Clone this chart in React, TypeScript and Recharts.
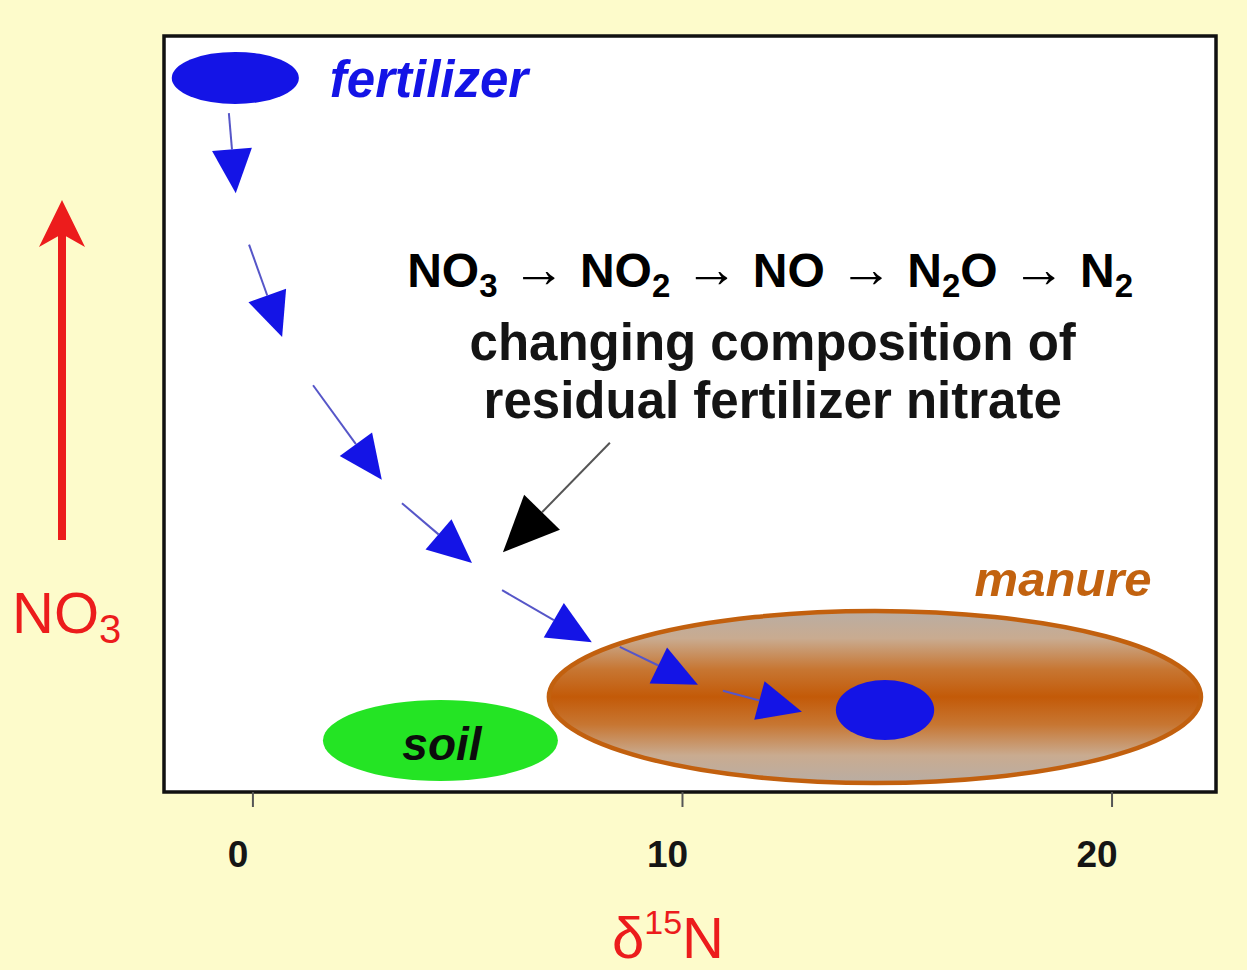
import {
  ScatterChart,
  XAxis,
  YAxis,
  ReferenceArea,
  ReferenceLine,
  ReferenceDot,
  Label,
} from "recharts";

const FONT = "'Liberation Sans', Arial, Helvetica, sans-serif";
const PAGE_BG = "#fdfbcb";
const BLUE = "#1414e6";
const RED = "#ec1c1c";

// delta 15N (x) and nitrate concentration (y, relative 0-100)
const xDomain = [-2.07, 22.42];
const yDomain = [0, 100];
const xTicks = [0, 10, 20];

// source fields as boxes in chart units
const sourceNames = ["frame", "manure", "soil", "fertilizer", "residual"];
const sourceX = [
  [-2.07, 22.42],
  [6.89, 22.07],
  [1.63, 7.1],
  [-1.89, 1.07],
  [13.57, 15.86],
];
const sourceY = [
  [0, 100],
  [1.19, 23.94],
  [1.46, 12.17],
  [91.0, 97.9],
  [6.88, 14.81],
];

// denitrification path of the residual fertilizer nitrate
const pathStart = [
  [-0.56, 89.8],
  [-0.09, 72.4],
  [1.4, 53.8],
  [3.47, 38.2],
  [5.8, 26.7],
  [8.54, 19.2],
  [10.94, 13.4],
];
const pathEnd = [
  [-0.4, 79.2],
  [0.68, 60.2],
  [3.0, 41.3],
  [5.1, 30.3],
  [7.89, 19.8],
  [10.36, 14.2],
  [12.78, 10.6],
];

// pointer from the caption to the path
const pointerStart = [8.31, 46.2];
const pointerEnd = [5.82, 31.7];

// caption anchors
const captionNames = ["fertilizer", "chain", "line1", "line2", "manure", "soil"];
const captionX = [1.79, 12.04, 12.1, 12.1, 18.86, 4.4];
const captionY = [91.9, 66.8, 57.1, 49.5, 25.9, 4.2];

const chainParts = [
  ["NO", "3"],
  ["NO", "2"],
  ["NO", ""],
  ["N", "2", "O"],
  ["N", "2"],
];

const sourceStyle: Record<string, any> = {
  frame: { fill: "#ffffff", stroke: "#111", strokeWidth: 3.5, rect: true },
  manure: { fill: "url(#manureFill)", stroke: "#c2600e", strokeWidth: 4.5 },
  soil: { fill: "#24e424" },
  fertilizer: { fill: BLUE },
  residual: { fill: BLUE },
};

function sourceShape(name: string) {
  const st = sourceStyle[name];
  return (p: any) => {
    const { x, y, width, height } = p;
    if (st.rect) {
      return (
        <rect x={x} y={y} width={width} height={height} fill={st.fill} stroke={st.stroke} strokeWidth={st.strokeWidth} />
      );
    }
    return (
      <g>
        <defs>
          <linearGradient id="manureFill" x1="0" y1="0" x2="0" y2="1">
            <stop offset="0%" stopColor="#b9ada3" />
            <stop offset="16%" stopColor="#c9ab90" />
            <stop offset="34%" stopColor="#c77632" />
            <stop offset="50%" stopColor="#c35a08" />
            <stop offset="66%" stopColor="#c77632" />
            <stop offset="84%" stopColor="#c9ab90" />
            <stop offset="100%" stopColor="#b9ada3" />
          </linearGradient>
        </defs>
        <ellipse
          cx={x + width / 2}
          cy={y + height / 2}
          rx={Math.abs(width) / 2}
          ry={Math.abs(height) / 2}
          fill={st.fill}
          stroke={st.stroke ?? "none"}
          strokeWidth={st.strokeWidth ?? 0}
        />
      </g>
    );
  };
}

function arrowShape(head: string, shaft: string, headLen: number, headHalf: number) {
  return (p: any) => {
    const { x1, y1, x2, y2 } = p;
    const dx = x2 - x1;
    const dy = y2 - y1;
    const len = Math.hypot(dx, dy) || 1;
    const ux = dx / len;
    const uy = dy / len;
    const bx = x2 - ux * headLen;
    const by = y2 - uy * headLen;
    const nx = -uy * headHalf;
    const ny = ux * headHalf;
    return (
      <g>
        <line x1={x1} y1={y1} x2={bx} y2={by} stroke={shaft} strokeWidth={2} />
        <polygon points={`${x2},${y2} ${bx + nx},${by + ny} ${bx - nx},${by - ny}`} fill={head} />
      </g>
    );
  };
}

function captionShape(name: string) {
  return (p: any) => {
    const { cx, cy } = p;
    if (name === "fertilizer" || name === "manure" || name === "soil") {
      const color = name === "fertilizer" ? BLUE : name === "manure" ? "#c2620f" : "#0c0c0c";
      const size = name === "soil" ? 46 : name === "fertilizer" ? 51 : 49;
      return (
        <text
          x={cx}
          y={cy}
          textAnchor={name === "fertilizer" ? "start" : "middle"}
          fontFamily={FONT}
          fontSize={size}
          fontWeight="bold"
          fontStyle="italic"
          fill={color}
        >
          {name}
        </text>
      );
    }
    if (name === "chain") {
      const items: any[] = [];
      let shifted = false;
      chainParts.forEach((part, i) => {
        if (i > 0) {
          items.push(
            <tspan key={`a${i}`} fontWeight="normal" fontSize={53} dy={shifted ? -10 : 0}>
              {" \u2192 "}
            </tspan>
          );
          shifted = false;
        }
        items.push(<tspan key={`m${i}`}>{part[0]}</tspan>);
        if (part[1]) {
          items.push(
            <tspan key={`s${i}`} fontSize={33} dy={10}>
              {part[1]}
            </tspan>
          );
          shifted = true;
          if (part[2]) {
            items.push(
              <tspan key={`r${i}`} dy={-10}>
                {part[2]}
              </tspan>
            );
            shifted = false;
          }
        }
      });
      return (
        <text x={cx} y={cy} textAnchor="middle" fontFamily={FONT} fontSize={48} fontWeight="bold" fill="#000">
          {items}
        </text>
      );
    }
    return (
      <text x={cx} y={cy} textAnchor="middle" fontFamily={FONT} fontSize={51} fontWeight="bold" fill="#141414">
        {name === "line1" ? "changing composition of" : "residual fertilizer nitrate"}
      </text>
    );
  };
}

function XTick(p: any) {
  return (
    <text
      x={p.x - 15}
      y={p.y + 58}
      textAnchor="middle"
      fontFamily={FONT}
      fontSize={37}
      fontWeight="bold"
      fill="#151515"
    >
      {p.payload.value}
    </text>
  );
}

function XTitle(p: any) {
  const vb = p.viewBox;
  return (
    <text x={vb.x + vb.width / 2 - 22} y={vb.y + 166} textAnchor="middle" fontFamily={FONT} fontSize={58} fill={RED}>
      {"\u03b4"}
      <tspan fontSize={34} dy={-24}>
        15
      </tspan>
      <tspan dy={24}>N</tspan>
    </text>
  );
}

function YTitle(p: any) {
  const vb = p.viewBox;
  const ax = vb.x + 62;
  const top = vb.y + 164;
  const bottom = vb.y + 504;
  return (
    <g>
      <line x1={ax} y1={bottom} x2={ax} y2={top + 30} stroke={RED} strokeWidth={8} />
      <polygon
        points={`${ax},${top} ${ax + 23},${top + 47} ${ax},${top + 34} ${ax - 23},${top + 47}`}
        fill={RED}
      />
      <text x={vb.x + 12} y={vb.y + 597} fontFamily={FONT} fontSize={58} fill={RED}>
        NO
        <tspan fontSize={40} dy={10}>
          3
        </tspan>
      </text>
    </g>
  );
}

export default function App() {
  return (
    <div style={{ width: 1247, height: 970, background: PAGE_BG }}>
      <style>{`body{margin:0}`}</style>
      <ScatterChart width={1247} height={970} margin={{ top: 36, right: 31, bottom: 0, left: 0 }}>
        <XAxis
          type="number"
          dataKey="x"
          domain={xDomain}
          ticks={xTicks}
          allowDataOverflow
          height={178}
          axisLine={false}
          tickSize={15}
          tickLine={{ stroke: "#555", strokeWidth: 2 }}
          tick={XTick}
        >
          <Label content={XTitle} />
        </XAxis>
        <YAxis
          type="number"
          dataKey="y"
          domain={yDomain}
          allowDataOverflow
          width={164}
          tick={false}
          tickLine={false}
          axisLine={false}
        >
          <Label content={YTitle} />
        </YAxis>
        {sourceNames.map((name, i) => (
          <ReferenceArea
            key={name}
            x1={sourceX[i][0]}
            x2={sourceX[i][1]}
            y1={sourceY[i][0]}
            y2={sourceY[i][1]}
            ifOverflow="visible"
            shape={sourceShape(name)}
          />
        ))}
        {pathStart.map((s, i) => (
          <ReferenceLine
            key={`path${i}`}
            segment={[
              { x: s[0], y: s[1] },
              { x: pathEnd[i][0], y: pathEnd[i][1] },
            ]}
            ifOverflow="visible"
            shape={arrowShape(BLUE, "#5656c8", 44, 20)}
          />
        ))}
        <ReferenceLine
          segment={[
            { x: pointerStart[0], y: pointerStart[1] },
            { x: pointerEnd[0], y: pointerEnd[1] },
          ]}
          ifOverflow="visible"
          shape={arrowShape("#000", "#555", 56, 25)}
        />
        {captionNames.map((name, i) => (
          <ReferenceDot
            key={name}
            x={captionX[i]}
            y={captionY[i]}
            r={0}
            ifOverflow="visible"
            shape={captionShape(name)}
          />
        ))}
      </ScatterChart>
    </div>
  );
}
